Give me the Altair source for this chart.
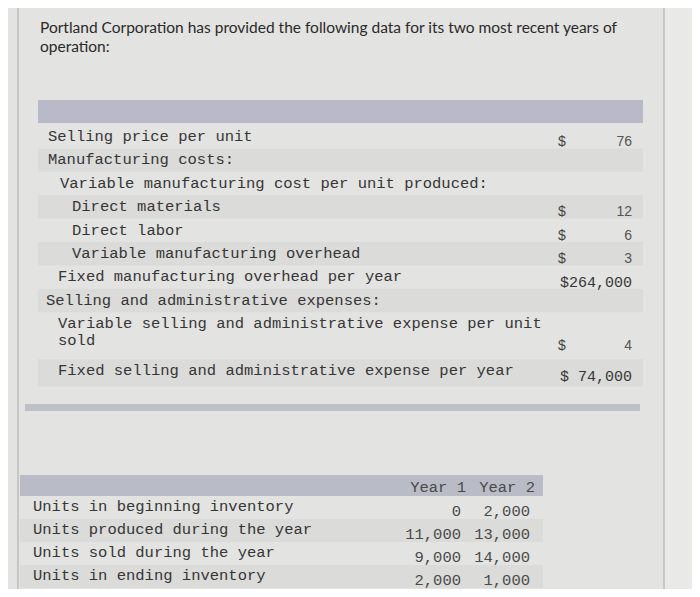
import altair as alt
import pandas as pd

# ---------------- data ----------------
title_lines = [
    "Portland Corporation has provided the following data for its two most recent years of",
    "operation:",
]

t1_labels = [
    "Selling price per unit",
    "Manufacturing costs:",
    "Variable manufacturing cost per unit produced:",
    "Direct materials",
    "Direct labor",
    "Variable manufacturing overhead",
    "Fixed manufacturing overhead per year",
    "Selling and administrative expenses:",
    "Variable selling and administrative expense per unit\nsold",
    "Fixed selling and administrative expense per year",
]
t1_indent = [0, 0, 1, 2, 2, 2, 1, 0, 1, 1]
t1_dollar = ["$", "", "", "$", "$", "$", "", "", "$", ""]
t1_values = ["76", "", "", "12", "6", "3", "$264,000", "", "4", "$ 74,000"]

t2_cols = ["Year 1", "Year 2"]
t2_labels = [
    "Units in beginning inventory",
    "Units produced during the year",
    "Units sold during the year",
    "Units in ending inventory",
]
t2_year1 = ["0", "11,000", "9,000", "2,000"]
t2_year2 = ["2,000", "13,000", "14,000", "1,000"]

# ---------------- layout ----------------
W, H = 684, 581
XS = alt.Scale(domain=[8, 692])
YS = alt.Scale(domain=[8, 589], reverse=True)
X = alt.X("x:Q", scale=XS, axis=None)
Y = alt.Y("y:Q", scale=YS, axis=None)
X2 = alt.X2("x2")
Y2 = alt.Y2("y2")

MONO = "Liberation Mono"
TXT = "#363636"
VAL = "#4a4a4a"

# table 1 row geometry
T1_TOP = 136
T1_STEP = 23.4
t1_y = []
y = T1_TOP
for lab in t1_labels:
    t1_y.append(y)
    y += T1_STEP + (23.6 if "\n" in lab else 0)

rows1 = []
label_lines = []
for i, lab in enumerate(t1_labels):
    parts = lab.split("\n")
    for k, p in enumerate(parts):
        label_lines.append({"x": 48 + 12 * t1_indent[i] - (2 if i >= 6 else 0), "y": t1_y[i] + 17 * k, "t": p})
    vy = t1_y[i] + 6 + 17 * (len(parts) - 1)
    rows1.append({"i": i, "yv": vy, "d": t1_dollar[i], "v": t1_values[i]})

df_lab1 = pd.DataFrame(label_lines)
df_r1 = pd.DataFrame(rows1)
df_r1["xd"] = 562
df_r1["xv"] = 632
mono_vals = df_r1[df_r1["v"].str.startswith("$")].copy()
sans_vals = df_r1[~df_r1["v"].str.startswith("$") & (df_r1["v"] != "")].copy()
dollars = df_r1[df_r1["d"] != ""].copy()

# stripes table1
stripe1 = []
for i, lab in enumerate(t1_labels):
    extra = 23.6 if "\n" in lab else 0
    stripe1.append({"x": 38, "x2": 643, "y": t1_y[i] - 11, "y2": t1_y[i] + 12.4 + extra + 4,
                    "c": "odd" if i % 2 else "even"})
df_s1 = pd.DataFrame(stripe1)

# table 2
T2_TOP = 506
T2_STEP = 23
t2_y = [T2_TOP + T2_STEP * i for i in range(len(t2_labels))]
df_lab2 = pd.DataFrame({"x": 33, "y": t2_y, "t": t2_labels})
df_v2 = pd.DataFrame({
    "y": [v + 5 for v in t2_y] * 2,
    "x": [461] * 4 + [530] * 4,
    "t": t2_year1 + t2_year2,
})
df_h2 = pd.DataFrame({"x": [466, 535], "y": [487, 487], "t": t2_cols})
df_s2 = pd.DataFrame([{"x": 20, "x2": 543, "y": t2_y[i] - 10, "y2": t2_y[i] + 13,
                       "c": "odd" if i % 2 else "even"} for i in range(len(t2_labels))])

# header / divider bands
df_bands = pd.DataFrame([
    {"x": 38, "x2": 643, "y": 100, "y2": 123, "c": "#b8bac7"},
    {"x": 25, "x2": 640, "y": 404, "y2": 411, "c": "#c0c1c6"},
    {"x": 20, "x2": 543, "y": 475, "y2": 496, "c": "#b9bbc6"},
])
df_edges = pd.DataFrame([
    {"x": 18, "x2": 18, "y": 8, "y2": 589},
    {"x": 664, "x2": 664, "y": 8, "y2": 589},
])
df_right = pd.DataFrame([{"x": 664.5, "x2": 692, "y": 8, "y2": 589}])
df_title = pd.DataFrame({"x": 40, "y": [28 + 19 * i for i in range(len(title_lines))], "t": title_lines})

stripe_scale = alt.Scale(domain=["even", "odd"], range=["#e3e3e1", "#dbdbd9"])

layers = [
    alt.Chart(df_right).mark_rect(color="#e9e9e7").encode(x=X, x2=X2, y=Y, y2=Y2),
    alt.Chart(df_s1).mark_rect().encode(x=X, x2=X2, y=Y, y2=Y2,
        color=alt.Color("c:N", scale=stripe_scale, legend=None)),
    alt.Chart(df_s2).mark_rect().encode(x=X, x2=X2, y=Y, y2=Y2,
        color=alt.Color("c:N", scale=stripe_scale, legend=None)),
    alt.Chart(df_bands).mark_rect().encode(x=X, x2=X2, y=Y, y2=Y2,
        color=alt.Color("c:N", scale=None)),
    alt.Chart(df_edges).mark_rule(color="#a9a9a9", strokeWidth=1).encode(x=X, x2=X2, y=Y, y2=Y2),
    alt.Chart(df_title).mark_text(align="left", baseline="middle", font="Lato", fontSize=15.5,
        color="#2a2a2a").encode(x=X, y=Y, text="t:N"),
    alt.Chart(df_lab1).mark_text(align="left", baseline="middle", font=MONO, fontSize=15.5,
        color=TXT).encode(x=X, y=Y, text="t:N"),
    alt.Chart(dollars).mark_text(align="center", baseline="middle", font="Liberation Sans",
        fontSize=14, color="#444").encode(x=alt.X("xd:Q", scale=XS, axis=None),
        y=alt.Y("yv:Q", scale=YS, axis=None), text="d:N"),
    alt.Chart(sans_vals).mark_text(align="right", baseline="middle", font="Liberation Sans",
        fontSize=14, color="#555").encode(x=alt.X("xv:Q", scale=XS, axis=None),
        y=alt.Y("yv:Q", scale=YS, axis=None), text="v:N"),
    alt.Chart(mono_vals).mark_text(align="right", baseline="middle", font=MONO,
        fontSize=15, color=TXT).encode(x=alt.X("xv:Q", scale=XS, axis=None),
        y=alt.Y("yv:Q", scale=YS, axis=None), text="v:N"),
    alt.Chart(df_lab2).mark_text(align="left", baseline="middle", font=MONO, fontSize=15.5,
        color=TXT).encode(x=X, y=Y, text="t:N"),
    alt.Chart(df_h2).mark_text(align="right", baseline="middle", font=MONO, fontSize=15.5,
        color=VAL).encode(x=X, y=Y, text="t:N"),
    alt.Chart(df_v2).mark_text(align="right", baseline="middle", font=MONO, fontSize=15.5,
        color=VAL).encode(x=X, y=Y, text="t:N"),
]

chart = alt.layer(*layers).resolve_scale(color="independent").properties(
    width=W, height=H, background="#e3e3e1",
    autosize=alt.AutoSizeParams(type="none"), padding=0,
).configure_view(stroke=None)

chart.save("out.html", embed_options={"renderer": "svg", "actions": False})
